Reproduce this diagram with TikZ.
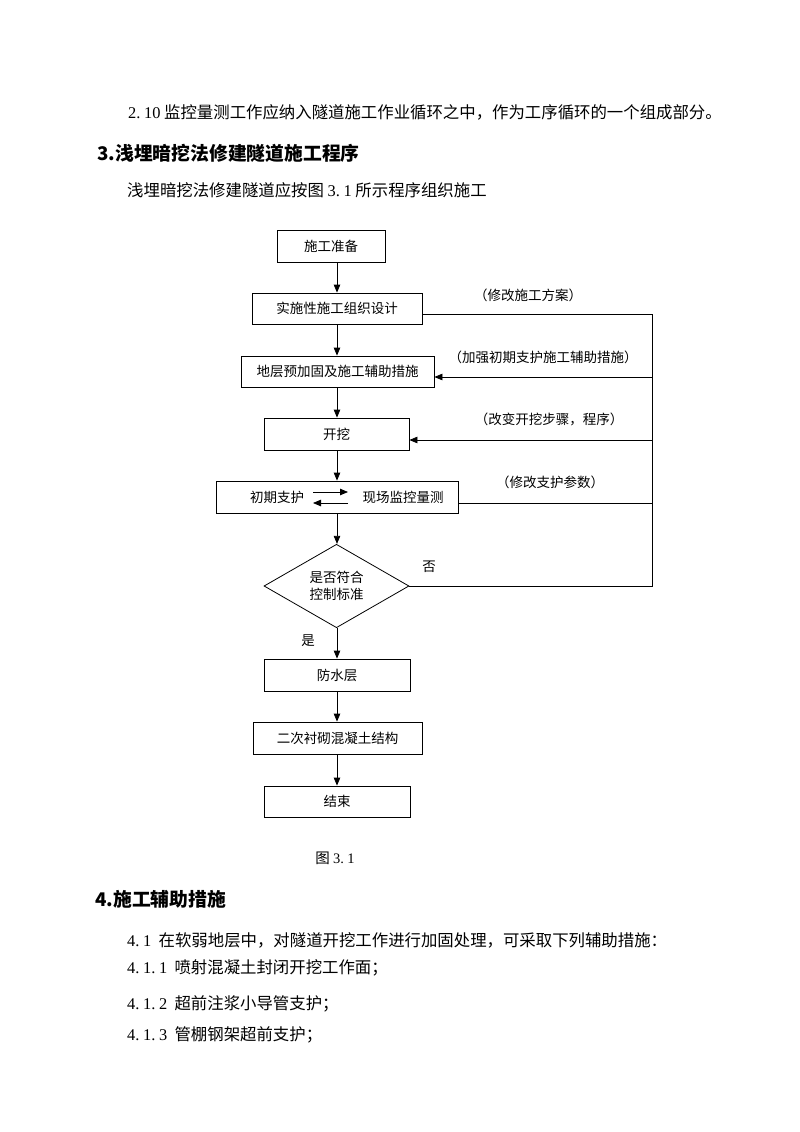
\documentclass[tikz,border=0pt]{standalone}
\usepackage{fontspec}
\setmainfont{Noto Sans CJK SC}
\newfontfamily\numfont{Liberation Serif}
\newcommand{\dg}[1]{{\numfont #1}}
\newcommand{\pt}{\kern.22em}
\usetikzlibrary{shapes.geometric,arrows.meta,calc}
\begin{document}
\begin{tikzpicture}[x=1pt,y=-1pt,
  box/.style={draw, line width=0.8pt, inner sep=0pt, minimum height=32pt, font=\fontsize{13.5}{15}\selectfont},
  lbl/.style={inner sep=0pt, font=\fontsize{13.5}{15}\selectfont},
  body/.style={anchor=west, inner sep=0pt, font=\fontsize{16.4}{18}\selectfont},
  head/.style={anchor=west, inner sep=0pt, font=\fontsize{18.8}{21}\selectfont\bfseries},
  arr/.style={-{Triangle[length=8pt,width=6.5pt]}, line width=0.8pt},
  ln/.style={line width=0.8pt}]
\useasboundingbox[fill=white] (0,0) rectangle (800,1132);

% text above
\node[body] (t1) at (128,112) {\dg{2.\pt 10} 监控量测工作应纳入隧道施工作业循环之中，作为工序循环的一个组成部分。};
\node[head] (h3) at (97,153) {3.浅埋暗挖法修建隧道施工程序};
\node[body] (t2) at (127,190) {浅埋暗挖法修建隧道应按图 \dg{3.\pt 1} 所示程序组织施工};

% flowchart boxes
\node[box, minimum width=108pt] (prep) at (331,246) {施工准备};
\node[box, minimum width=170pt, minimum height=31pt] (design) at (337,308.5) {实施性施工组织设计};
\node[box, minimum width=193pt, minimum height=31pt] (reinf) at (337.5,371.5) {地层预加固及施工辅助措施};
\node[box, minimum width=145pt] (exc) at (336.5,434) {开挖};
\node[box, minimum width=242pt] (sup) at (337,497) {};
\node[lbl] (s1) at (277,497) {初期支护};
\node[lbl] (s2) at (403,497) {现场监控量测};
\node[draw, diamond, line width=0.8pt, inner sep=0pt, minimum width=145pt, minimum height=82pt, align=center, font=\fontsize{13.5}{17}\selectfont] (dec) at (336.5,586) {是否符合\\控制标准};
\node[box, minimum width=146pt] (water) at (337,675) {防水层};
\node[box, minimum width=169pt] (lining) at (337.5,738) {二次衬砌混凝土结构};
\node[box, minimum width=146pt, minimum height=31pt] (endn) at (337,801.5) {结束};

% inner arrows
\coordinate (a1) at (313,492);
\coordinate (a2) at (348,492);
\coordinate (b1) at (348,503);
\coordinate (b2) at (313,503);
\draw[arr] (a1) -- (a2);
\draw[arr] (b1) -- (b2);

% main vertical arrows
\draw[arr] (prep.south -| design.north) -- (design.north);
\draw[arr] (design.south) -- (reinf.north -| design.south);
\draw[arr] (reinf.south -| design.south) -- (exc.north -| design.south);
\draw[arr] (exc.south -| design.south) -- (sup.north -| design.south);
\draw[arr] (sup.south -| design.south) -- (dec.north -| design.south);
\draw[arr] (dec.south -| design.south) -- (water.north -| design.south);
\draw[arr] (water.south -| design.south) -- (lining.north -| design.south);
\draw[arr] (lining.south -| design.south) -- (endn.north -| design.south);

% feedback loop
\coordinate (rt) at (652,314);
\coordinate (r2) at (652,377);
\coordinate (r3) at (652,440);
\coordinate (r4) at (652,503);
\coordinate (rb) at (652,586);
\draw[ln] (design.east |- rt) -- (rt) -- (rb) -- (dec.east);
\draw[arr] (r2) -- (r2 -| reinf.east);
\draw[arr] (r3) -- (r3 -| exc.east);
\draw[ln] (r4 -| sup.east) -- (r4);

% loop labels
\node[lbl] (l1) at (528,295) {（修改施工方案）};
\node[lbl] (l2) at (543,357) {（加强初期支护施工辅助措施）};
\node[lbl] (l3) at (549,419) {（改变开挖步骤，程序）};
\node[lbl] (l4) at (550,482) {（修改支护参数）};
\node[lbl] (no) at (429,567) {否};
\node[lbl] (yes) at (308,641) {是};

\node[body, anchor=center, font=\fontsize{14.5}{16}\selectfont] (fig) at (335,858) {图 \dg{3.\pt 1}};

% text below
\node[head] (h4) at (95,899) {4.施工辅助措施};
\node[body] (t41) at (127,940) {\dg{4.\pt 1}\ \ 在软弱地层中，对隧道开挖工作进行加固处理，可采取下列辅助措施：};
\node[body] (t411) at (127,968) {\dg{4.\pt 1.\pt 1}\ \ 喷射混凝土封闭开挖工作面；};
\node[body] (t412) at (127,1004) {\dg{4.\pt 1.\pt 2}\ \ 超前注浆小导管支护；};
\node[body] (t413) at (127,1035) {\dg{4.\pt 1.\pt 3}\ \ 管棚钢架超前支护；};
\end{tikzpicture}
\end{document}
